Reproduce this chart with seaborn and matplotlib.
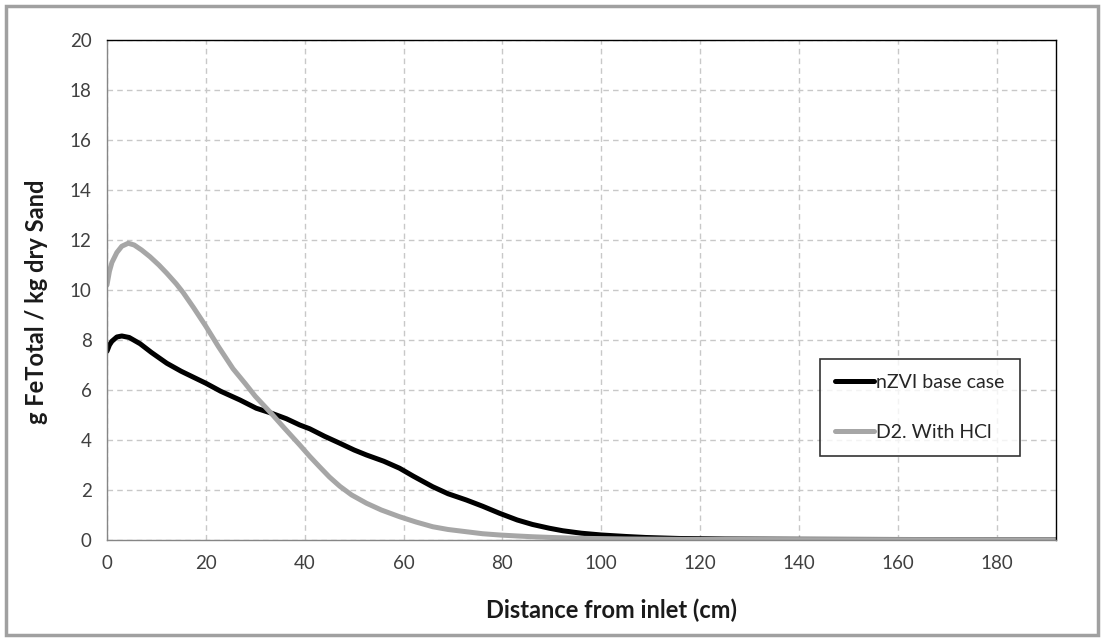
import pandas as pd
import seaborn as sns
import matplotlib.pyplot as plt
from matplotlib.patches import Rectangle

# data
base_x = [0, 0.5, 1, 2, 3, 4.5, 6.7, 9, 12.1, 15, 20, 23, 26.9, 30.2, 33.3, 36.3, 39,
          41, 44, 47.1, 50, 52.5, 56, 59.2, 62, 65.9, 69, 72.7, 76, 79.4, 83, 86.1,
          89.5, 92.2, 96, 100, 105, 109, 115.8, 125, 140, 160, 192]
base_y = [7.55, 7.8, 7.95, 8.12, 8.16, 8.1, 7.85, 7.5, 7.07, 6.75, 6.27, 5.95, 5.6,
          5.27, 5.07, 4.85, 4.6, 4.45, 4.15, 3.87, 3.6, 3.4, 3.15, 2.87, 2.55, 2.13,
          1.85, 1.6, 1.35, 1.07, 0.8, 0.62, 0.47, 0.37, 0.27, 0.2, 0.14, 0.1, 0.06,
          0.04, 0.03, 0.02, 0.01]

hcl_x = [0, 0.5, 1, 2, 3, 4.3, 5.5, 7, 8.7, 10.5, 12.1, 14, 15.4, 17.5, 20, 22.5,
         25.5, 28, 30, 33.3, 36, 39, 41, 43, 45, 47.1, 49.5, 52.5, 55.5, 59.2, 62.5,
         65.9, 69, 72.7, 76, 79.4, 83, 86, 90, 95, 105, 120, 192]
hcl_y = [10.2, 10.75, 11.1, 11.5, 11.75, 11.87, 11.8, 11.6, 11.33, 11.0, 10.67,
         10.25, 9.9, 9.3, 8.55, 7.75, 6.85, 6.25, 5.75, 5.05, 4.45, 3.8, 3.35, 2.93,
         2.52, 2.15, 1.8, 1.47, 1.2, 0.93, 0.72, 0.53, 0.42, 0.33, 0.25, 0.2, 0.16,
         0.13, 0.1, 0.07, 0.04, 0.02, 0.01]

labels = ['nZVI base case', 'D2. With HCl']
colors = ['#000000', '#a6a6a6']

df = pd.concat([
    pd.DataFrame({'x': base_x, 'y': base_y, 'case': labels[0]}),
    pd.DataFrame({'x': hcl_x, 'y': hcl_y, 'case': labels[1]}),
])

sns.set_style('white')
plt.rcParams['font.family'] = ['Lato', 'DejaVu Sans']

fig = plt.figure(figsize=(11.04, 6.41), dpi=100)
ax = fig.add_axes([0.0969, 0.1576, 0.8596, 0.78])

sns.lineplot(data=df, x='x', y='y', hue='case', palette=colors, sort=False,
             linewidth=3.6, ax=ax, legend=True)

ax.set_xlim(0, 192)
ax.set_ylim(0, 20)
ax.set_xticks(range(0, 181, 20))
ax.set_yticks(range(0, 21, 2))
ax.grid(True, color='#c8c8c8', linestyle=(0, (4, 3)), linewidth=1)

ax.spines['left'].set_color('#868686')
ax.spines['bottom'].set_color('#868686')
ax.spines['top'].set_color('#000000')
ax.spines['right'].set_color('#000000')
for s in ax.spines.values():
    s.set_linewidth(1)
ax.tick_params(axis='both', direction='out', length=7, width=1, color='#868686',
               labelsize=13.5, labelcolor='#404040', pad=4)

ax.set_xlabel('Distance from inlet (cm)', fontsize=17, fontweight='bold',
              color='#1a1a1a')
ax.set_ylabel('g FeTotal / kg dry Sand', fontsize=17, fontweight='bold',
              color='#1a1a1a')
ax.xaxis.set_label_coords(0.5316, -0.118)
ax.yaxis.set_label_coords(-0.062, 0.476)

leg = ax.legend(loc='upper left', bbox_to_anchor=(820 / 1104, 1 - 359 / 641),
                bbox_transform=fig.transFigure, frameon=True, fancybox=False,
                fontsize=14, handlelength=2.0, handletextpad=0.1,
                labelspacing=1.7, borderpad=0.78, borderaxespad=0, title=None)
leg.get_frame().set_edgecolor('#000000')
leg.get_frame().set_linewidth(1.2)
for t in leg.get_texts():
    t.set_color('#262626')

# outer chart border
fig.patches.append(Rectangle((6 / 1104, 6 / 641), 1092 / 1104, 629 / 641,
                             transform=fig.transFigure, fill=False,
                             edgecolor='#a0a0a0', linewidth=2.5))

plt.savefig('out.png', dpi=100)
